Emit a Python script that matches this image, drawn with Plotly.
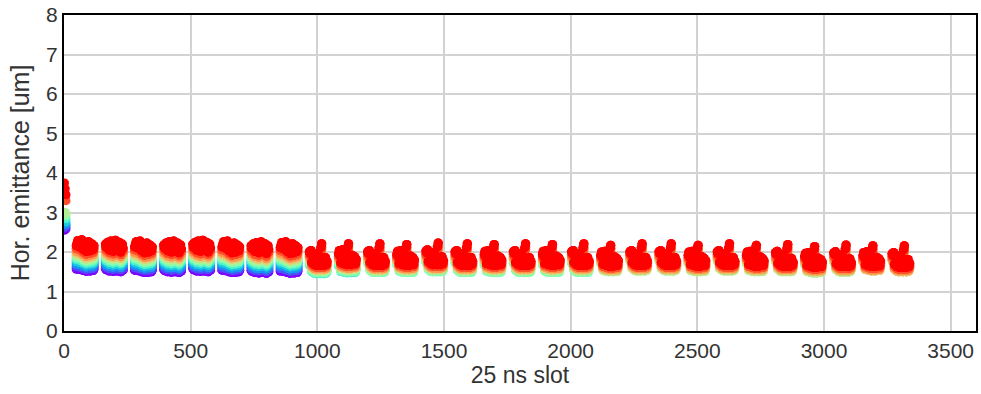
import plotly.graph_objects as go

# Scan times over the fill, normalised (0 = first scan, 1 = last scan)
scan_time = [0.0, 0.1, 0.2, 0.3, 0.4, 0.5, 0.6, 0.7, 0.8, 0.9, 1.0]
# Mean train emittance at each scan [um]
early_level = [1.52, 1.58, 1.64, 1.70, 1.75, 1.80, 1.85, 1.90, 1.95, 2.01, 2.08]
late_level = [1.38, 1.44, 1.49, 1.54, 1.58, 1.62, 1.67, 1.71, 1.75, 1.80, 1.86]
# How strongly the bunch-to-bunch pattern shows up at each scan
bump_scale = [0.40, 0.46, 0.52, 0.58, 0.64, 0.70, 0.76, 0.82, 0.88, 0.94, 1.0]

# Isolated bunches at the start of the ring
single_slots = [2, 5, 8]
single_emit = [
    [2.55, 2.62, 2.70, 2.78, 2.86, 2.93, 3.00, None, None, 3.45, 3.75],
    [2.60, 2.66, 2.73, 2.80, 2.88, 2.95, 3.00, None, None, 3.38, 3.60],
    [2.58, 2.64, 2.70, 2.76, 2.84, 2.91, 2.97, None, None, 3.30, 3.45],
]

# Bunch trains: first slot, first scan that sees the train, pattern, level shift
train_start = [48, 163, 278, 393, 508, 623, 738, 853, 968, 1083, 1198, 1313,
               1428, 1543, 1658, 1773, 1888, 2003, 2118, 2233, 2348, 2463,
               2578, 2693, 2808, 2923, 3038, 3153, 3268]
train_first_scan = [0, 0, 0, 0, 0, 0, 0, 0, 4, 4, 5, 5, 5, 5, 5, 5, 5, 5, 6,
                    6, 6, 6, 6, 6, 6, 6, 6, 7, 7]
train_pattern = [0, 1, 0, 1, 1, 0, 1, 0, 2, 3, 2, 3, 2, 2, 3, 2, 3, 2, 3, 2,
                 2, 3, 2, 3, 2, 3, 2, 3, 2]
train_shift = [0.03, 0.02, 0.0, 0.0, 0.02, 0.0, -0.02, -0.02, 0.0, 0.02, 0.0,
               0.0, 0.02, 0.0, 0.0, 0.0, 0.0, 0.0, -0.02, 0.0, 0.0, -0.02,
               0.0, -0.02, -0.02, -0.05, -0.03, -0.03, -0.05]
n_early_trains = 8
bunches_per_train = 72
bunches_per_group = 3

# Bunch-to-bunch deviation along a train at the last scan [um], per group of 3
patterns = [
    [0.05, 0.12, 0.18, 0.10, 0.02, 0.08, 0.15, 0.20, 0.10, -0.05, 0.00, 0.12,
     0.05, -0.10, -0.05, 0.08, 0.15, 0.05, -0.08, 0.00, 0.10, 0.02, -0.05, 0.05],
    [0.10, 0.02, 0.08, 0.15, 0.05, -0.05, 0.10, 0.18, 0.08, 0.00, -0.08, 0.05,
     0.12, 0.20, 0.05, -0.05, 0.02, 0.10, 0.15, 0.02, -0.10, 0.05, 0.10, 0.00],
    [0.15, 0.10, 0.18, -0.12, 0.12, 0.05, -0.18, 0.10, -0.05, -0.20, 0.00, -0.15,
     0.05, -0.12, -0.20, 0.25, 0.35, -0.15, -0.02, -0.20, -0.12, 0.00, -0.18, -0.10],
    [0.08, 0.16, 0.02, -0.15, 0.10, 0.18, -0.08, -0.18, 0.00, 0.10, -0.12, -0.20,
     0.25, 0.33, 0.02, -0.15, -0.20, -0.05, 0.04, -0.18, -0.10, 0.00, -0.18, -0.06],
]

# Rainbow colour scale (purple -> blue -> green -> orange -> red)
rainbow = [
    [0.0, "rgb(128,0,255)"], [0.125, "rgb(64,98,250)"], [0.25, "rgb(0,180,236)"],
    [0.375, "rgb(64,236,212)"], [0.5, "rgb(128,255,180)"], [0.625, "rgb(191,236,142)"],
    [0.75, "rgb(255,180,98)"], [0.875, "rgb(255,98,50)"], [1.0, "rgb(255,0,0)"],
]

xs, ys, cs = [], [], []
for s, t in enumerate(scan_time):
    for slot, row in zip(single_slots, single_emit):
        if row[s] is not None:
            xs.append(slot)
            ys.append(row[s])
            cs.append(t)
    for k, start in enumerate(train_start):
        if s < train_first_scan[k]:
            continue
        level = early_level if k < n_early_trains else late_level
        pattern = patterns[train_pattern[k]]
        for b in range(bunches_per_train):
            xs.append(start + b)
            ys.append(level[s] + train_shift[k]
                      + pattern[b // bunches_per_group] * bump_scale[s])
            cs.append(t)

fig = go.Figure(go.Scatter(
    x=xs, y=ys, mode="markers",
    marker=dict(size=9, color=cs, colorscale=rainbow, cmin=0, cmax=1,
                showscale=False, line=dict(width=0)),
    hoverinfo="skip",
))

axis_style = dict(
    showgrid=True, gridcolor="#d2d2d2", gridwidth=1.5,
    showline=True, linecolor="black", linewidth=2, mirror=True,
    zeroline=False, ticks="", ticklabeloverflow="allow",
    tickfont=dict(size=21, color="#333333"),
)

fig.update_layout(
    width=981, height=394,
    margin=dict(l=64, r=3, t=11, b=63),
    paper_bgcolor="white", plot_bgcolor="white",
    font=dict(family="Liberation Sans, Arial, sans-serif", color="#333333"),
    showlegend=False,
    xaxis=dict(range=[0, 3600], tickvals=[0, 500, 1000, 1500, 2000, 2500, 3000, 3500],
               title=dict(text="25 ns slot", font=dict(size=23), standoff=6),
               **axis_style),
    yaxis=dict(range=[0, 8], tickvals=[0, 1, 2, 3, 4, 5, 6, 7, 8],
               title=dict(text="Hor. emittance [um]", font=dict(size=25), standoff=9),
               **axis_style),
)

fig.write_html("out.html")
